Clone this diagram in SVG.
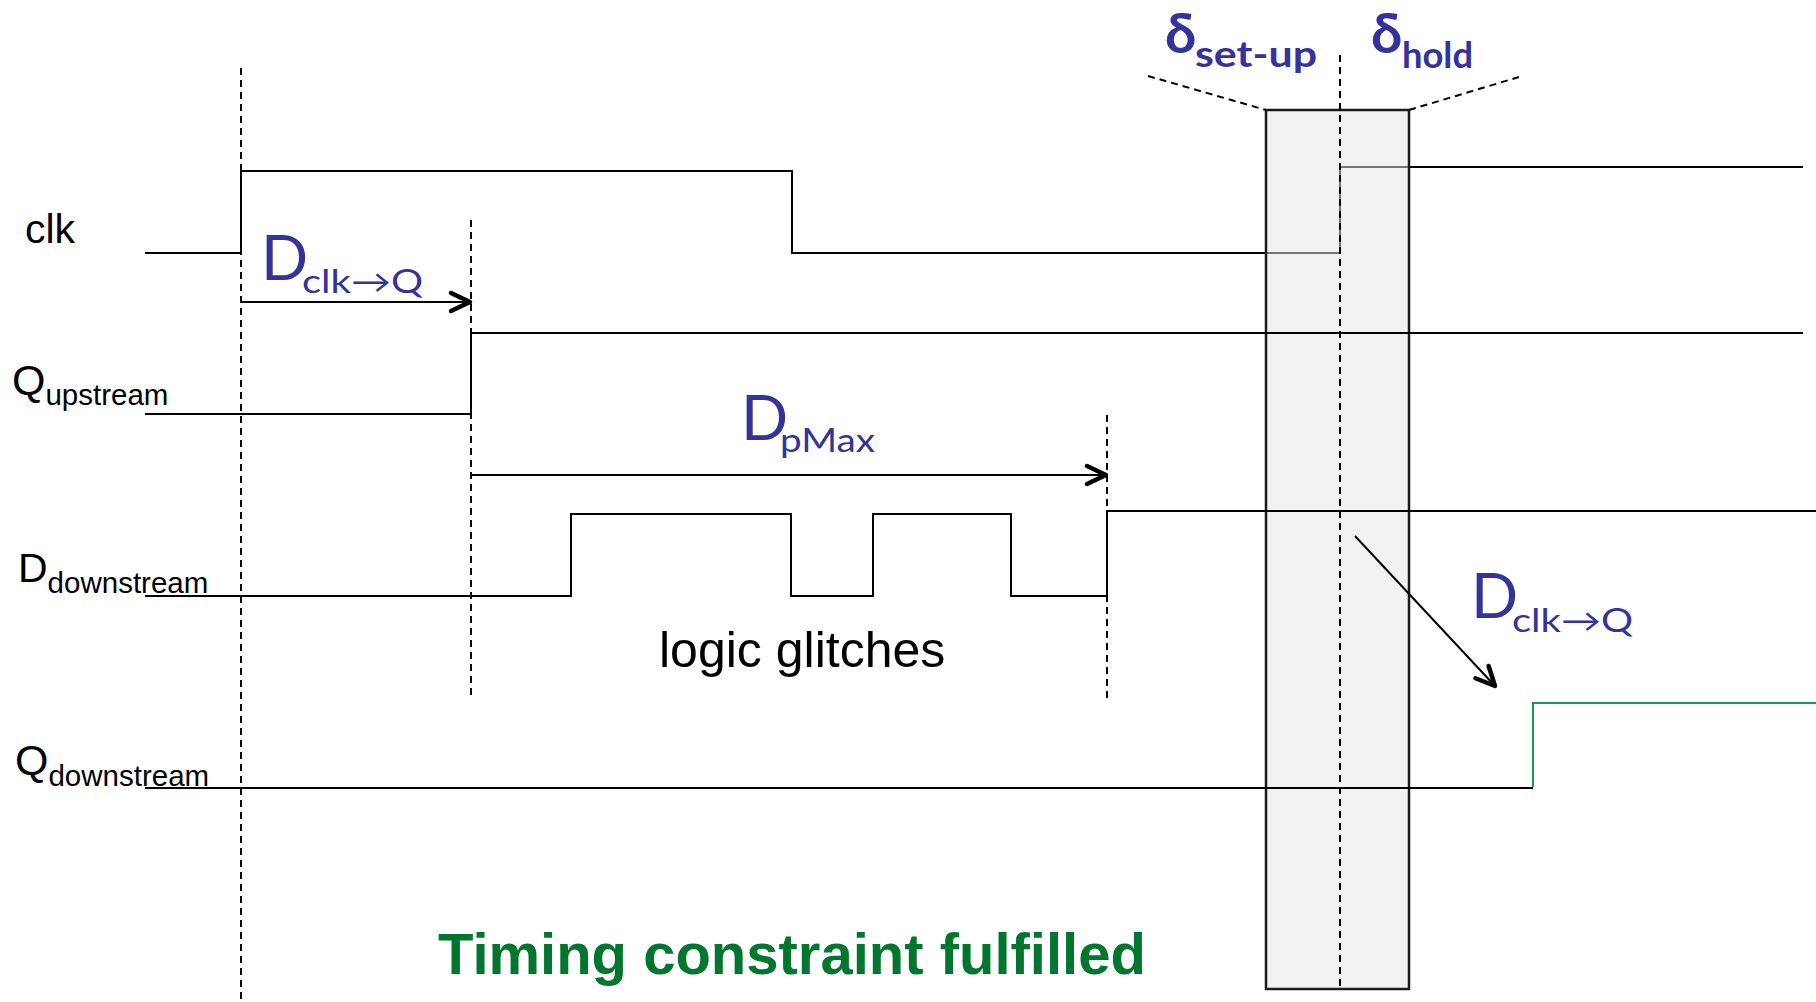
<svg xmlns="http://www.w3.org/2000/svg" width="1816" height="1002" viewBox="0 0 1816 1002">
<style>
.sig{fill:none;stroke:#000;stroke-width:2;stroke-linejoin:miter}
.dash{fill:none;stroke:#000;stroke-width:2;stroke-dasharray:7,5}
.arr{fill:none;stroke:#000;stroke-width:2}
.lbl{font-family:"Liberation Sans",Arial,sans-serif;fill:#000}
.cs{font-family:"Comic Sans MS","Lato","Noto Sans",sans-serif;fill:#333399}
</style>
<defs>
<marker id="chev" markerUnits="userSpaceOnUse" markerWidth="34" markerHeight="34" viewBox="-28 -17 34 34" refX="0" refY="0" orient="auto">
<path d="M-19,-9 L0,0 L-19,9" fill="none" stroke="#000" stroke-width="4.5" stroke-linecap="round" stroke-linejoin="round"/>
</marker>
</defs>
<rect width="1816" height="1002" fill="#fff"/>

<g id="clk">
<path class="sig" d="M145,253 H241 V171 H792 V253 H1340 V167 H1803"/>
<text class="lbl" x="25" y="243" font-size="41">clk</text>
</g>

<g id="window">
<rect x="1266" y="110" width="143" height="879" fill="#e6e6e6" fill-opacity="0.5" stroke="#1a1a1a" stroke-width="2.5"/>
<path class="dash" d="M1148,76 L1266,110 M1409,110 L1519,77"/>
<path class="dash" d="M1340,55 V989"/>
<text class="cs" x="1165" y="53" font-size="56" font-weight="bold">δ</text>
<text class="cs" x="1195" y="67" font-size="36" font-weight="bold" textLength="122" lengthAdjust="spacingAndGlyphs">set-up</text>
<text class="cs" x="1371" y="53" font-size="56" font-weight="bold">δ</text>
<text class="cs" x="1402" y="68" font-size="36" font-weight="bold" textLength="71" lengthAdjust="spacingAndGlyphs">hold</text>
</g>

<g id="q-upstream">
<path class="sig" d="M145,414 H471 V333 H1803"/>
<text class="lbl" x="12" y="395" font-size="43">Q<tspan font-size="29.5" dy="10">upstream</tspan></text>
</g>

<g id="d-downstream">
<path class="sig" d="M145,596 H571 V514 H791 V596 H873 V514 H1011 V596 H1107 V511 H1816"/>
<text class="lbl" x="18" y="582" font-size="41">D<tspan font-size="29.5" dy="11">downstream</tspan></text>
<text class="lbl" x="659" y="667" font-size="50">logic glitches</text>
</g>

<g id="q-downstream">
<path class="sig" d="M145,788 H1533"/>
<path d="M1533,787 V703 H1816" fill="none" stroke="#1e9650" stroke-width="2"/>
<text class="lbl" x="15" y="775" font-size="43">Q<tspan font-size="29.5" dy="11">downstream</tspan></text>
</g>

<g id="markers">
<path class="dash" d="M241,68 V1002"/>
<path class="dash" d="M471,220 V697"/>
<path class="dash" d="M1107,415 V702"/>
</g>

<g id="connectors">
<path class="arr" d="M241,302 H470" marker-end="url(#chev)"/>
<path class="arr" d="M471,475 H1106" marker-end="url(#chev)"/>
<path class="arr" d="M1355,536 L1495,686" marker-end="url(#chev)"/>
</g>

<g id="delay-labels">
<text class="cs" x="261" y="280" font-size="62">D</text>
<text class="cs" x="302" y="293" font-size="32" textLength="121" lengthAdjust="spacingAndGlyphs">clk→Q</text>
<text class="cs" x="741" y="440" font-size="62">D</text>
<text class="cs" x="780" y="452" font-size="32" textLength="95" lengthAdjust="spacingAndGlyphs">pMax</text>
<text class="cs" x="1471" y="618" font-size="62">D</text>
<text class="cs" x="1512" y="632" font-size="32" textLength="121" lengthAdjust="spacingAndGlyphs">clk→Q</text>
</g>

<text id="title" x="438" y="974" font-family="Liberation Sans,Arial,sans-serif" font-size="58" font-weight="bold" fill="#00762f">Timing constraint fulfilled</text>
</svg>
